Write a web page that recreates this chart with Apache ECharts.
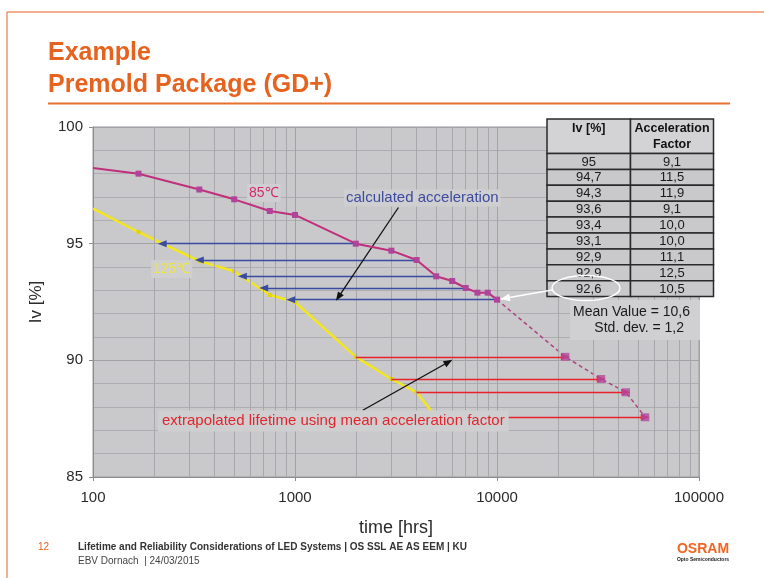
<!DOCTYPE html>
<html>
<head>
<meta charset="utf-8">
<script src="https://cdn.jsdelivr.net/npm/echarts@6/dist/echarts.min.js"></script>
<style>
  html, body { margin: 0; padding: 0; background: #ffffff; }
  #chart { width: 764px; height: 578px; }
</style>
</head>
<body>
<div id="chart"></div>
<script>
// Luminous intensity (Iv, %) over time at 85°C
const hours85 = [100, 168, 336, 500, 750, 1000, 2000, 3000, 4000, 5000, 6000, 7000, 8000, 9000, 10000];
const iv85    = [98.24, 98.0, 97.32, 96.9, 96.4, 96.23, 95.0, 94.7, 94.3, 93.6, 93.4, 93.1, 92.9, 92.9, 92.6];

// Luminous intensity (Iv, %) over time at 125°C
const hours125 = [100, 168, 336, 500, 750, 1000, 2000, 3000, 4000, 5000];
const iv125    = [96.5, 95.5, 94.25, 93.82, 92.8, 92.5, 90.15, 89.2, 88.63, 87.56];

// 85°C lifetime extrapolated with the mean acceleration factor
const hoursFromExtrap = [2000, 3000, 4000, 5000];
const hoursExtrap     = [21800, 32800, 43500, 54200];
const ivExtrap        = [90.15, 89.2, 88.63, 87.56];

// Equal-Iv arrows used to derive the acceleration factors
const accelFrom = [2000, 4000, 5000, 7000, 10000];
const accelTo   = [220, 336, 549, 700, 952];
const accelIv   = [95, 94.3, 93.6, 93.1, 92.6];

// Acceleration factor table
const tableIv     = ['95', '94,7', '94,3', '93,6', '93,4', '93,1', '92,9', '92,9', '92,6'];
const tableFactor = ['9,1', '11,5', '11,9', '9,1', '10,0', '10,0', '11,1', '12,5', '10,5'];
const meanText = 'Mean Value = 10,6';
const stdText  = 'Std. dev. = 1,2';

// Axis ranges
const xMin = 100, xMax = 100000;
const yMin = 85, yMax = 100, yStep = 5;

const FONT = '"Liberation Sans", Arial, Helvetica, sans-serif';
const ORANGE = '#e6621f';

// vertical minor grid lines at 2..9 of every decade
const minorHours = [];
for (let d = xMin; d < xMax; d *= 10) {
  for (let k = 2; k <= 9; k++) minorHours.push(k * d);
}

const pair = (xs, ys) => xs.map((x, i) => [x, ys[i]]);

const chart = echarts.init(document.getElementById('chart'), null, { renderer: 'canvas' });

const option = {
  animation: false,
  backgroundColor: '#ffffff',
  textStyle: { fontFamily: FONT },
  grid: {
    left: 93, right: 65, top: 127, bottom: 101,
    show: true, backgroundColor: '#c9c9cc', borderColor: '#9a9a9e', borderWidth: 1
  },
  xAxis: {
    type: 'log', logBase: 10, min: xMin, max: xMax,
    name: 'time [hrs]', nameLocation: 'middle', nameGap: 42,
    nameTextStyle: { fontSize: 18, color: '#2a2a2a', fontFamily: FONT },
    axisLine: { show: true, lineStyle: { color: '#8c8c90' } },
    axisTick: { show: true, length: 4, lineStyle: { color: '#8c8c90' } },
    axisLabel: { fontSize: 15, color: '#2a2a2a', margin: 13, formatter: v => String(v) },
    splitLine: { show: true, lineStyle: { color: '#a2a2a6', width: 1 } }
  },
  yAxis: {
    type: 'value', min: yMin, max: yMax, interval: yStep,
    name: 'Iv [%]', nameLocation: 'middle', nameGap: 48,
    nameTextStyle: { fontSize: 17, color: '#2a2a2a', fontFamily: FONT },
    axisLine: { show: true, lineStyle: { color: '#8c8c90' } },
    axisTick: { show: true, length: 4, lineStyle: { color: '#8c8c90' } },
    axisLabel: { fontSize: 15, color: '#2a2a2a', margin: 10 },
    splitLine: { show: true, lineStyle: { color: '#a2a2a6', width: 1 } },
    minorTick: { show: false, splitNumber: 5 },
    minorSplitLine: { show: true, lineStyle: { color: '#aeaeb2', width: 1 } }
  },
  series: [
    {
      // minor vertical grid
      type: 'scatter', data: [], z: 1, silent: true,
      markLine: {
        silent: true, symbol: 'none', animation: false,
        label: { show: false },
        lineStyle: { color: '#a8a8ac', width: 1, type: 'solid' },
        emphasis: { disabled: true },
        data: minorHours.map(h => ({ xAxis: h }))
      }
    },
    {
      name: '125°C', type: 'line', z: 4,
      data: pair(hours125, iv125).map((p, i) => i === 0 ? { value: p, symbol: 'none' } : p),
      lineStyle: { color: '#f3e51e', width: 2.5 },
      symbol: 'rect', symbolSize: 4,
      itemStyle: { color: '#e3d30e' }
    },
    {
      name: '85°C', type: 'line', z: 5,
      data: pair(hours85, iv85).map((p, i) => i === 0 ? { value: p, symbol: 'none' } : p),
      lineStyle: { color: '#c02f7c', width: 2 },
      symbol: 'rect', symbolSize: 6,
      itemStyle: { color: '#b0449a' }
    },
    {
      name: '85°C extrapolated', type: 'line', z: 4,
      data: [[hours85[hours85.length - 1], iv85[iv85.length - 1]]].concat(pair(hoursExtrap, ivExtrap)),
      lineStyle: { color: '#b04482', width: 1.5, type: [4, 3] },
      symbol: 'none'
    },
    {
      // equal-Iv arrows (85°C → 125°C)
      type: 'scatter', data: [], z: 3, silent: true,
      markLine: {
        silent: true, animation: false,
        symbol: ['none', 'triangle'], symbolSize: [7, 9],
        label: { show: false },
        emphasis: { disabled: true },
        lineStyle: { color: '#3a4ca0', width: 1.3, type: 'solid' },
        data: accelFrom.map((t, i) => [{ coord: [t, accelIv[i]] }, { coord: [accelTo[i], accelIv[i]] }])
      }
    },
    {
      // extrapolation arrows (125°C → 85°C)
      type: 'scatter', data: [], z: 3, silent: true,
      markLine: {
        silent: true, animation: false,
        symbol: ['none', 'triangle'], symbolSize: [7, 9],
        label: { show: false },
        emphasis: { disabled: true },
        lineStyle: { color: '#e8212a', width: 1.3, type: 'solid' },
        data: hoursFromExtrap.map((t, i) => [{ coord: [t, ivExtrap[i]] }, { coord: [hoursExtrap[i], ivExtrap[i]] }])
      }
    },
    {
      name: 'extrapolated points', type: 'scatter', z: 6,
      data: pair(hoursExtrap, ivExtrap),
      symbol: 'rect', symbolSize: 8,
      itemStyle: { color: '#b04aa0' }
    },
    {
      // pointer arrows from the annotations
      type: 'scatter', data: [], z: 7, silent: true,
      markLine: {
        silent: true, animation: false,
        symbol: ['none', 'triangle'], symbolSize: [7, 9],
        label: { show: false },
        emphasis: { disabled: true },
        lineStyle: { color: '#111111', width: 1.3, type: 'solid' },
        data: [
          [{ coord: [3251, 96.55] }, { coord: [1640, 92.71] }],
          [{ coord: [2166, 87.86] }, { coord: [5756, 89.93] }]
        ]
      }
    }
  ]
};

chart.setOption(option);

// ---- annotations, table and slide furniture ----
const g = [];
const Z = 100;

// slide frame and title
g.push({ type: 'line', z: Z, shape: { x1: 7, y1: 12, x2: 764, y2: 12 }, style: { stroke: '#f1956a', lineWidth: 1.5 } });
g.push({ type: 'line', z: Z, shape: { x1: 7, y1: 12, x2: 7, y2: 578 }, style: { stroke: '#f1956a', lineWidth: 1.5 } });
g.push({ type: 'text', z: Z, x: 48, y: 66, style: { text: 'Example', fill: ORANGE, font: 'bold 25px ' + FONT, textVerticalAlign: 'bottom' } });
g.push({ type: 'text', z: Z, x: 48, y: 98, style: { text: 'Premold Package (GD+)', fill: ORANGE, font: 'bold 25px ' + FONT, textVerticalAlign: 'bottom' } });
g.push({ type: 'line', z: Z, shape: { x1: 48, y1: 103.5, x2: 730, y2: 103.5 }, style: { stroke: '#e8702e', lineWidth: 2 } });

// series labels
g.push({ type: 'text', z: Z, x: 247, y: 193, style: {
  text: '85℃', fill: '#d42a6a', font: '14px ' + FONT, textVerticalAlign: 'middle',
  backgroundColor: '#cfcfd2', padding: [2, 2] } });
g.push({ type: 'text', z: Z, x: 151, y: 269, style: {
  text: '125℃', fill: '#ece445', font: '14px ' + FONT, textVerticalAlign: 'middle',
  backgroundColor: '#cfcfd2', padding: [2, 2] } });
g.push({ type: 'text', z: Z, x: 344, y: 198, style: {
  text: 'calculated acceleration', fill: '#3c4b9e', font: '15px ' + FONT, textVerticalAlign: 'middle',
  backgroundColor: '#cfcfd2', padding: [1, 2] } });
g.push({ type: 'text', z: Z, x: 158, y: 421, style: {
  text: 'extrapolated lifetime using mean acceleration factor', fill: '#e0262c', font: '15px ' + FONT,
  textVerticalAlign: 'middle', backgroundColor: '#cfcfd2', padding: [3, 4] } });

// acceleration factor table
const tx = 547, ty = 119, c1 = 83.5, c2 = 83, headH = 34.5, rowH = 15.9;
const cellStroke = { stroke: '#2a2a2a', lineWidth: 1.5 };
g.push({ type: 'rect', z: Z, shape: { x: tx, y: ty, width: c1, height: headH }, style: Object.assign({ fill: '#d3d3d5' }, cellStroke) });
g.push({ type: 'rect', z: Z, shape: { x: tx + c1, y: ty, width: c2, height: headH }, style: Object.assign({ fill: '#d3d3d5' }, cellStroke) });
g.push({ type: 'text', z: Z, x: tx + c1 / 2, y: ty + 3, style: { text: 'Iv [%]', fill: '#111', font: 'bold 12.5px ' + FONT, textAlign: 'center' } });
g.push({ type: 'text', z: Z, x: tx + c1 + c2 / 2, y: ty + 3, style: { text: 'Acceleration', fill: '#111', font: 'bold 12.5px ' + FONT, textAlign: 'center' } });
g.push({ type: 'text', z: Z, x: tx + c1 + c2 / 2, y: ty + 19, style: { text: 'Factor', fill: '#111', font: 'bold 12.5px ' + FONT, textAlign: 'center' } });
tableIv.forEach((v, i) => {
  const ry = ty + headH + i * rowH;
  g.push({ type: 'rect', z: Z, shape: { x: tx, y: ry, width: c1, height: rowH }, style: Object.assign({ fill: '#c9c9cb' }, cellStroke) });
  g.push({ type: 'rect', z: Z, shape: { x: tx + c1, y: ry, width: c2, height: rowH }, style: Object.assign({ fill: '#c9c9cb' }, cellStroke) });
  g.push({ type: 'text', z: Z, x: tx + c1 / 2, y: ry + rowH / 2 + 0.5, style: { text: v, fill: '#1a1a1a', font: '13px ' + FONT, textAlign: 'center', textVerticalAlign: 'middle' } });
  g.push({ type: 'text', z: Z, x: tx + c1 + c2 / 2, y: ry + rowH / 2 + 0.5, style: { text: tableFactor[i], fill: '#1a1a1a', font: '13px ' + FONT, textAlign: 'center', textVerticalAlign: 'middle' } });
});

// mean / std box
g.push({ type: 'rect', z: Z, shape: { x: 570, y: 300, width: 130, height: 40 }, style: { fill: '#d0d0d2' } });
g.push({ type: 'text', z: Z, x: 690, y: 312, style: { text: meanText, fill: '#1a1a1a', font: '14px ' + FONT, textAlign: 'right', textVerticalAlign: 'middle' } });
g.push({ type: 'text', z: Z, x: 684, y: 328, style: { text: stdText, fill: '#1a1a1a', font: '14px ' + FONT, textAlign: 'right', textVerticalAlign: 'middle' } });

// highlight of the last table row and pointer to the matching 85°C point
g.push({ type: 'ellipse', z: Z + 1, shape: { cx: 586, cy: 288, rx: 34, ry: 12.5 }, style: { fill: null, stroke: '#ffffff', lineWidth: 1.5 } });
const tip = chart.convertToPixel({ gridIndex: 0 }, [hours85[hours85.length - 1], iv85[iv85.length - 1]]);
const tail = [552, 290];
const ang = Math.atan2(tip[1] - tail[1], tip[0] - tail[0]);
const tipPt = [tip[0] - 4 * Math.cos(ang), tip[1] - 4 * Math.sin(ang)];
g.push({ type: 'line', z: Z + 1, shape: { x1: tail[0], y1: tail[1], x2: tipPt[0], y2: tipPt[1] }, style: { stroke: '#ffffff', lineWidth: 1.5 } });
const hl = 9, hw = 4;
const bx = tipPt[0] - hl * Math.cos(ang), by = tipPt[1] - hl * Math.sin(ang);
g.push({ type: 'polygon', z: Z + 1, shape: { points: [
  tipPt,
  [bx + hw * Math.sin(ang), by - hw * Math.cos(ang)],
  [bx - hw * Math.sin(ang), by + hw * Math.cos(ang)]
] }, style: { fill: '#ffffff' } });

// footer
g.push({ type: 'text', z: Z, x: 38, y: 547, style: { text: '12', fill: ORANGE, font: '10px ' + FONT, textVerticalAlign: 'middle' } });
g.push({ type: 'text', z: Z, x: 78, y: 547, style: { text: 'Lifetime and Reliability Considerations of LED Systems | OS SSL AE AS EEM | KU', fill: '#333', font: 'bold 10px ' + FONT, textVerticalAlign: 'middle' } });
g.push({ type: 'text', z: Z, x: 78, y: 561, style: { text: 'EBV Dornach  | 24/03/2015', fill: '#444', font: '10px ' + FONT, textVerticalAlign: 'middle' } });
g.push({ type: 'text', z: Z, x: 703, y: 549, style: { text: 'OSRAM', fill: '#f26522', font: 'bold 14px ' + FONT, textAlign: 'center', textVerticalAlign: 'middle' } });
g.push({ type: 'text', z: Z, x: 703, y: 560, style: { text: 'Opto Semiconductors', fill: '#222', font: 'bold 5px ' + FONT, textAlign: 'center', textVerticalAlign: 'middle' } });

chart.setOption({ graphic: { elements: g } });
</script>
</body>
</html>
